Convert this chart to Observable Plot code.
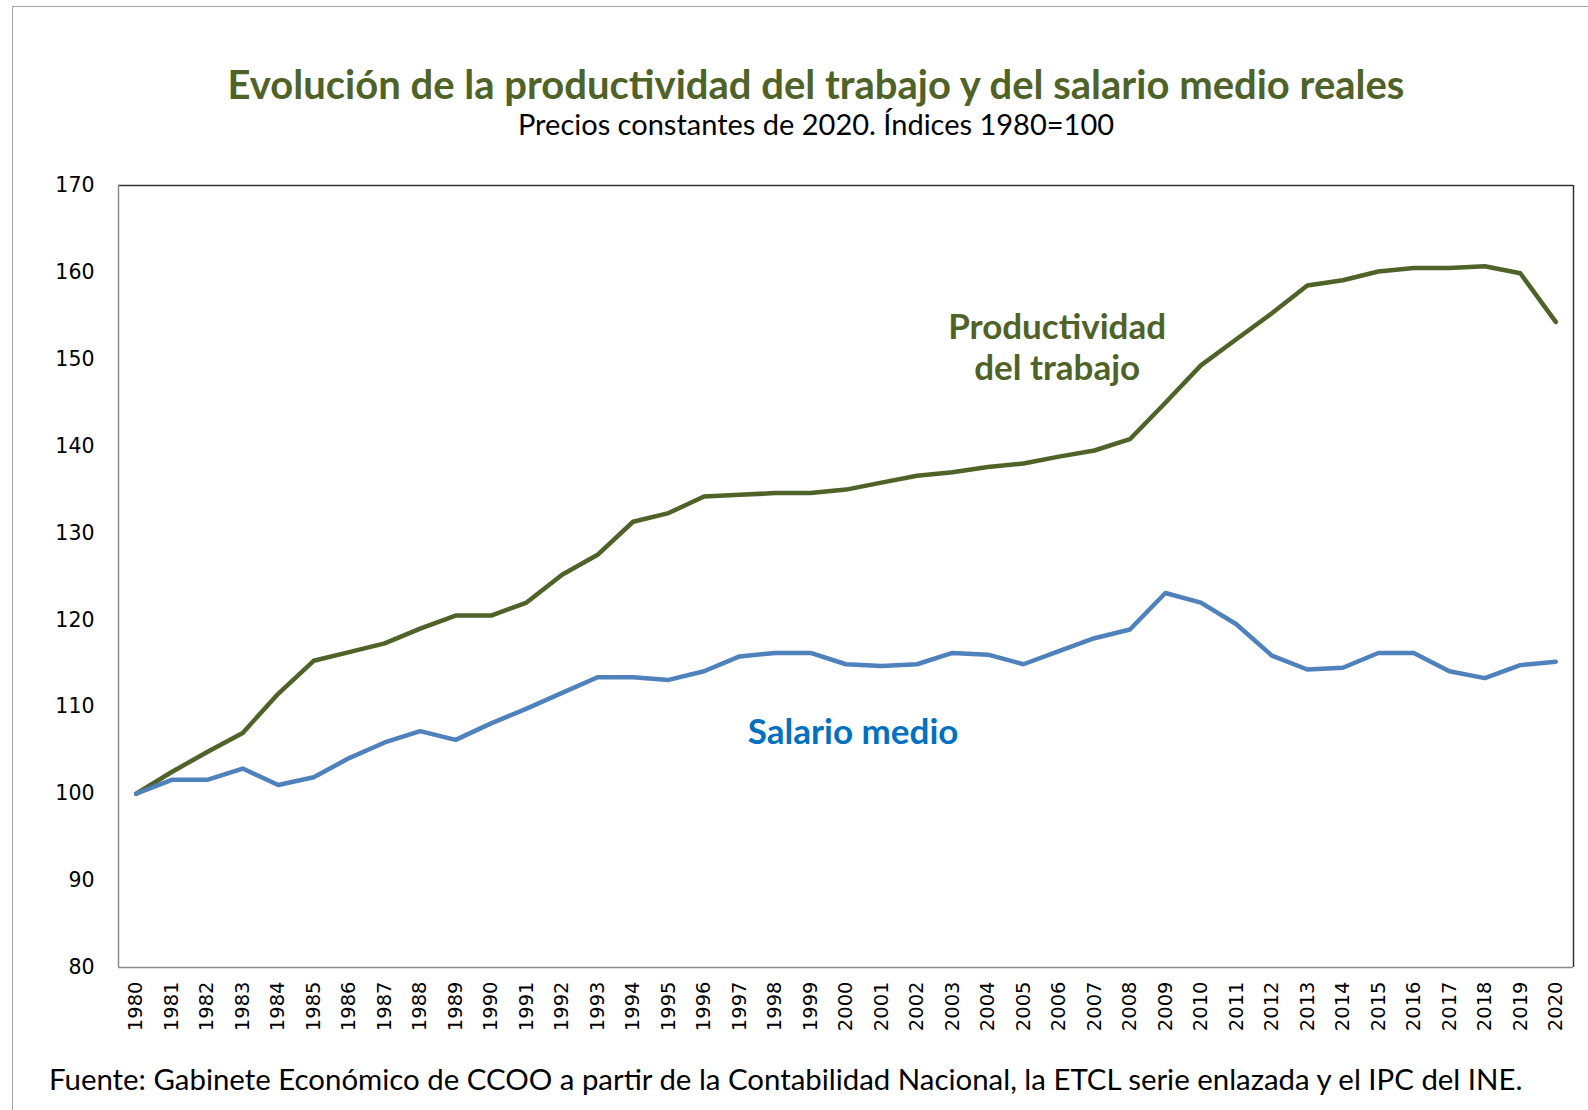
<!DOCTYPE html>
<html>
<head>
<meta charset="utf-8">
<script src="https://cdn.jsdelivr.net/npm/d3@7"></script>
<script src="https://cdn.jsdelivr.net/npm/@observablehq/plot@0.6"></script>
<style>
  html, body { margin: 0; padding: 0; background: #fff; }
  #page { position: relative; width: 1588px; height: 1110px; overflow: hidden; font-family: Lato, "Open Sans", sans-serif; }
  #border { position: absolute; left: 12px; top: 6px; width: 1600px; height: 1200px; border-left: 1.5px solid #a6a6a6; border-top: 1.5px solid #a6a6a6; }
  #title { position: absolute; left: 0; width: 1632px; top: 60px; text-align: center; font-weight: 700; font-size: 40px; line-height: 48px; color: #4f6228; white-space: nowrap; }
  #subtitle { position: absolute; left: 0; width: 1632px; top: 107px; text-align: center; font-size: 29px; line-height: 34px; color: #000; white-space: nowrap; }
  #chart { position: absolute; left: 0; top: 150px; }
  #caption { position: absolute; left: 49px; top: 1062px; font-size: 29.4px; line-height: 34px; color: #000; white-space: nowrap; }
</style>
</head>
<body>
<div id="page">
  <div id="border"></div>
  <div id="title">Evolución de la productividad del trabajo y del salario medio reales</div>
  <div id="subtitle">Precios constantes de 2020. Índices 1980=100</div>
  <div id="chart"></div>
  <div id="caption">Fuente: Gabinete Económico de CCOO a partir de la Contabilidad Nacional, la ETCL serie enlazada y el IPC del INE.</div>
</div>
<script>
const years = [1980,1981,1982,1983,1984,1985,1986,1987,1988,1989,1990,1991,1992,1993,1994,1995,1996,1997,1998,1999,2000,2001,2002,2003,2004,2005,2006,2007,2008,2009,2010,2011,2012,2013,2014,2015,2016,2017,2018,2019,2020];
const productividad = [100,102.5,104.8,107,111.5,115.3,116.3,117.3,119,120.5,120.5,122,125.2,127.5,131.3,132.3,134.2,134.4,134.6,134.6,135,135.8,136.6,137,137.6,138,138.8,139.5,140.8,145,149.3,152.3,155.3,158.5,159.1,160.1,160.5,160.5,160.7,159.9,154.3];
const salario = [100,101.6,101.6,102.9,101,101.9,104.1,105.9,107.2,106.2,108.1,109.8,111.6,113.4,113.4,113.1,114.1,115.8,116.2,116.2,114.9,114.7,114.9,116.2,116,114.9,116.4,117.9,118.9,123.1,122,119.5,115.9,114.3,114.5,116.2,116.2,114.1,113.3,114.8,115.2];
const yTicks = [80,90,100,110,120,130,140,150,160,170];
const labels = [
  {year: 2005.95, value: 151.5, text: "Productividad\ndel trabajo", color: "#4f6228"},
  {year: 2000.2, value: 107.3, text: "Salario medio", color: "#0070c0"}
];

const prodData = years.map((y, i) => ({year: y, value: productividad[i]}));
const salData = years.map((y, i) => ({year: y, value: salario[i]}));
const xMin = years[0] - 0.5, xMax = years[years.length - 1] + 0.5;

const chart = Plot.plot({
  width: 1588,
  height: 890,
  marginLeft: 118,
  marginRight: 15,
  marginTop: 35,
  marginBottom: 73,
  style: {fontFamily: "DejaVu Sans, sans-serif", background: "transparent", color: "#000"},
  x: {type: "linear", domain: [xMin, xMax], label: null},
  y: {domain: [80, 170], label: null},
  marks: [
    Plot.axisY({ticks: yTicks, tickSize: 0, tickPadding: 24, fontSize: 20.5, label: null}),
    Plot.axisX({ticks: years, tickSize: 0, tickRotate: -90, tickPadding: 14, fontSize: 19.5, tickFormat: d => String(d), label: null}),
    Plot.ruleY([80], {stroke: "#8c8c8c", strokeWidth: 1.5}),
    Plot.ruleY([170], {stroke: "#333", strokeWidth: 1.5}),
    Plot.ruleX([xMin], {y1: 80, y2: 170, stroke: "#8c8c8c", strokeWidth: 1.5}),
    Plot.ruleX([xMax], {y1: 80, y2: 170, stroke: "#333", strokeWidth: 1.5}),
    Plot.line(prodData, {x: "year", y: "value", stroke: "#4f6228", strokeWidth: 4.5}),
    Plot.line(salData, {x: "year", y: "value", stroke: "#4f81bd", strokeWidth: 4.5}),
    Plot.text(labels, {x: "year", y: "value", text: "text", fill: "color", fontFamily: "Lato, sans-serif", fontWeight: 700, fontSize: 35, lineHeight: 1.19})
  ]
});
document.getElementById("chart").appendChild(chart);
</script>
</body>
</html>
